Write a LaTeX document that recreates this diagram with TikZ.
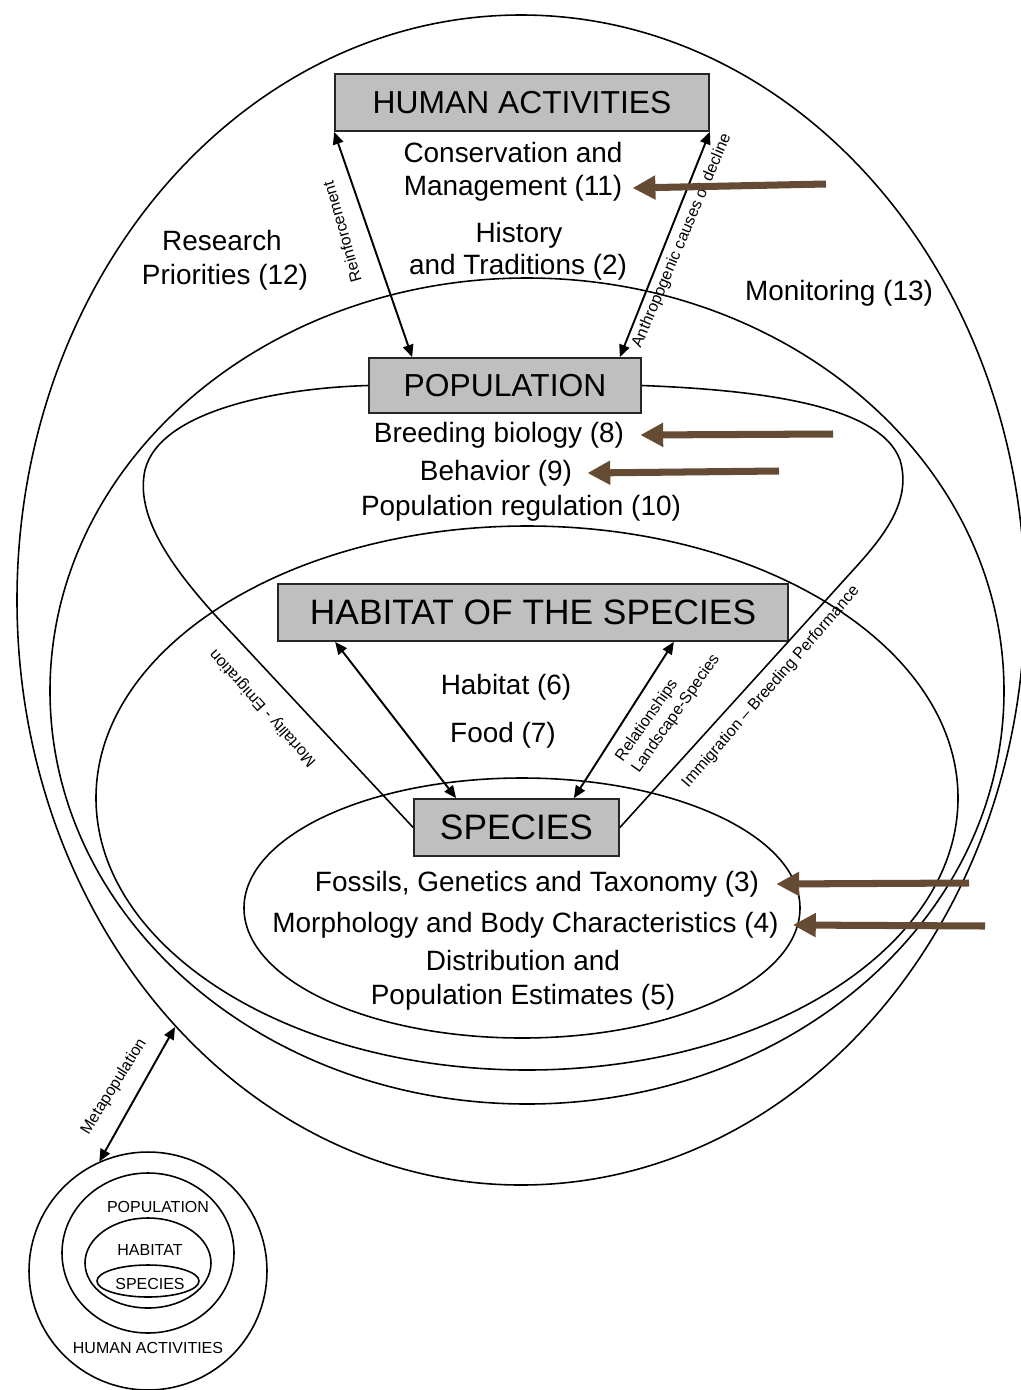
\documentclass[tikz,border=0pt]{standalone}
\usepackage{fontspec}
\setmainfont{Liberation Sans}
\usetikzlibrary{arrows.meta}
\definecolor{arrowbrown}{RGB}{101,75,52}
\tikzset{
  box/.style={draw=black!85, line width=1pt, fill=gray!50, inner sep=0pt},
  txt/.style={inner sep=0pt, text height=0.85em, text depth=0pt, font=\fontsize{15.9}{18.2}\selectfont},
  small/.style={inner sep=0pt, font=\fontsize{9.1}{11.3}\selectfont},
  ring/.style={line width=0.9pt},
  biarrow/.style={{Triangle[length=7pt,width=6pt]}-{Triangle[length=7pt,width=6pt]}, line width=1.1pt},
  brownarrow/.style={-{Triangle[length=13pt,width=13pt]}, line width=4pt, draw=arrowbrown, fill=arrowbrown}
}
\begin{document}
\begin{tikzpicture}[x=0.02cm, y=-0.02cm]
\useasboundingbox (0,0) rectangle (1021,1390);
\draw[ring] (521,600) ellipse [x radius=504, y radius=585];
\draw[ring] (527,691) ellipse [x radius=477, y radius=413];
\draw[ring] (527,798) ellipse [x radius=431, y radius=272];
\draw[ring] (522,908) ellipse [x radius=278, y radius=130];

\node[box, minimum width=7.48cm, minimum height=1.14cm, font=\fontsize{18.1}{20}\selectfont] (hum) at (522,102.5) {HUMAN ACTIVITIES};
\node[box, minimum width=5.44cm, minimum height=1.1cm, font=\fontsize{18.1}{20}\selectfont] (pop) at (505,385.5) {POPULATION};
\node[box, minimum width=10.2cm, minimum height=1.14cm, font=\fontsize{20.1}{22}\selectfont] (hab) at (533,612.5) {HABITAT OF THE SPECIES};
\node[box, minimum width=4.1cm, minimum height=1.14cm, font=\fontsize{20.1}{22}\selectfont] (spc) at (516.5,827.5) {SPECIES};

\draw[ring] (pop.west) .. controls (280,388) and (160,410) .. (145,470) .. controls (135,515) and (170,565) .. (215,615) -- (spc.west);
\draw[ring] (pop.east) .. controls (760,390) and (880,405) .. (900,460) .. controls (912,500) and (885,535) .. (855,568) -- (spc.east);

\draw[biarrow] (hum.south west) -- ([xshift=0.88cm]pop.north west);
\draw[biarrow] (hum.south east) -- ([xshift=-0.44cm]pop.north east);
\draw[biarrow] ([xshift=1.16cm]hab.south west) -- ([xshift=0.86cm]spc.north west);
\draw[biarrow] ([xshift=-2.3cm]hab.south east) -- ([xshift=-0.92cm]spc.north east);

\node[txt] (cons) at (513,155) {Conservation and};
\node[txt] (mgmt) at (513,188) {Management (11)};
\node[txt] (hist) at (519,235) {History};
\node[txt] (trad) at (518,267) {and Traditions (2)};
\node[txt] (res) at (222,243) {Research};
\node[txt] (prio) at (225,277) {Priorities (12)};
\node[txt] (mon) at (839,293) {Monitoring (13)};
\node[txt] (breed) at (499,435) {Breeding biology (8)};
\node[txt] (behav) at (496,473) {Behavior (9)};
\node[txt] (popreg) at (521,508) {Population regulation (10)};
\node[txt] (habt) at (506,687) {Habitat (6)};
\node[txt] (food) at (503,735) {Food (7)};
\node[txt] (foss) at (537,884) {Fossils, Genetics and Taxonomy (3)};
\node[txt] (morph) at (525.5,925) {Morphology and Body Characteristics (4)};
\node[txt] (distr) at (523,963) {Distribution and};
\node[txt] (popest) at (523,997) {Population Estimates (5)};

\node[small, rotate=106] (reinf) at (342,232) {Reinforcement};
\node[small, rotate=67] (anthro) at (682,241) {Anthropogenic causes of decline};
\node[small, rotate=132] (mort) at (263,708) {Mortality - Emigration};
\node[small, rotate=49] (immig) at (771,687) {Immigration -- Breeding Performance};
\node[small, rotate=55, align=left] (rel) at (668,708) {Relationships\\Landscape-Species};
\node[small, rotate=58] (meta) at (114,1087) {Metapopulation};

\coordinate (t11) at (826,184);
\coordinate (t8) at (833,434);
\coordinate (t9) at (779,471);
\coordinate (t3) at (969,883);
\coordinate (t4) at (985,926);
\draw[brownarrow] (t11) -- ([xshift=0.2cm]mgmt.east);
\draw[brownarrow] (t8) -- ([xshift=0.32cm]breed.east);
\draw[brownarrow] (t9) -- ([xshift=0.3cm]behav.east);
\draw[brownarrow] (t3) -- ([xshift=0.34cm]foss.east);
\draw[brownarrow] (t4) -- ([xshift=0.28cm]morph.east);

\node[draw, circle, ring, minimum size=4.76cm, inner sep=0pt] (minihum) at (148,1271) {};
\draw[ring] (148,1253) ellipse [x radius=86, y radius=80];
\draw[ring] (148,1263) ellipse [x radius=63, y radius=45];
\draw[ring] (148,1281) ellipse [x radius=51, y radius=16];
\node[small] (minipop) at (158,1207) {POPULATION};
\node[small] (minihab) at (150,1250) {HABITAT};
\node[small] (minisp) at (150,1284) {SPECIES};
\node[small] (miniha) at (148,1348) {HUMAN ACTIVITIES};
\coordinate (outerpt) at (175,1027);
\draw[biarrow] (minihum.114) -- (outerpt);
\end{tikzpicture}
\end{document}
